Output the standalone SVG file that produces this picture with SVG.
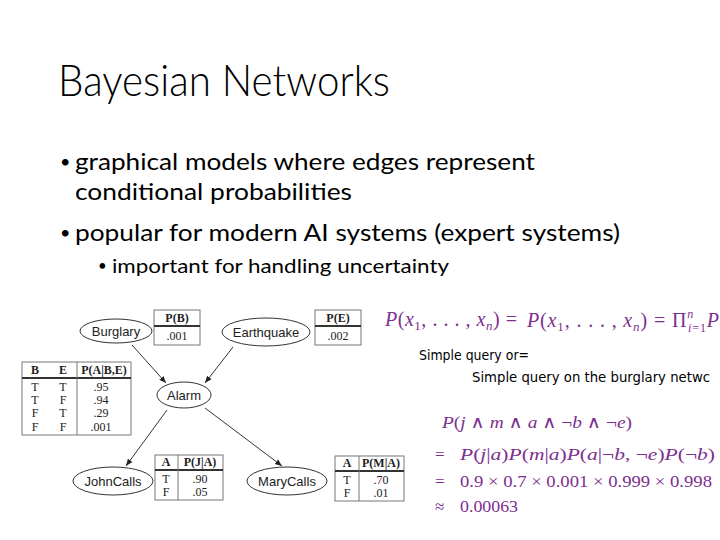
<svg xmlns="http://www.w3.org/2000/svg" width="720" height="540" viewBox="0 0 720 540">
<defs>
<style>
.title{font-family:Lato,"Open Sans","Liberation Sans",sans-serif;font-weight:300;font-size:44px;fill:#000}
.b1{font-family:Lato,"Open Sans","Liberation Sans",sans-serif;font-size:24px;fill:#000}
.b2{font-family:Lato,"Open Sans","Liberation Sans",sans-serif;font-size:20px;fill:#000}
.dot{font-family:Lato,"Open Sans","Liberation Sans",sans-serif;fill:#000}
.node ellipse{fill:#fff;stroke:#333;stroke-width:1}
.node text{font-family:"Liberation Sans",Arial,sans-serif;font-size:13px;fill:#222;text-anchor:middle}
.tbl rect{fill:#fff;stroke:#777;stroke-width:1}
.tbl line{stroke:#777;stroke-width:1}
.tbl line.hd{stroke:#333;stroke-width:2}
.tbl text{font-family:"Liberation Serif","Times New Roman",serif;font-size:12px;fill:#222;text-anchor:middle}
.tbl text.h{font-weight:bold}
.edge{stroke:#333;stroke-width:1;fill:none;marker-end:url(#arr)}
.m{font-family:"Liberation Serif","DejaVu Serif",serif;fill:#7d2f8f}
.i{font-style:italic}
.q{font-family:"DejaVu Sans","Liberation Sans",sans-serif;font-size:14px;fill:#000}
</style>
<marker id="arr" viewBox="0 0 10 10" refX="10" refY="5" markerWidth="7" markerHeight="7" orient="auto" markerUnits="userSpaceOnUse">
<path d="M0,1 L10,5 L0,9 z" fill="#222"/>
</marker>
</defs>
<rect width="720" height="540" fill="#fff"/>

<text class="title" x="58" y="96" textLength="332" lengthAdjust="spacingAndGlyphs">Bayesian Networks</text>

<g id="bullets">
<text class="dot" x="60" y="168" font-size="18">•</text>
<text class="b1" x="75" y="170" textLength="460" lengthAdjust="spacingAndGlyphs">graphical models where edges represent</text>
<text class="b1" x="75" y="200" textLength="277" lengthAdjust="spacingAndGlyphs">conditional probabilities</text>
<text class="dot" x="60" y="239" font-size="18">•</text>
<text class="b1" x="75" y="241" textLength="545" lengthAdjust="spacingAndGlyphs">popular for modern AI systems (expert systems)</text>
<text class="dot" x="98" y="271" font-size="15">•</text>
<text class="b2" x="112" y="273" textLength="337" lengthAdjust="spacingAndGlyphs">important for handling uncertainty</text>
</g>

<g id="connectors">
<line class="edge" x1="132" y1="345" x2="166" y2="383"/>
<line class="edge" x1="233" y1="347" x2="205" y2="383"/>
<line class="edge" x1="167" y1="410" x2="126" y2="466"/>
<line class="edge" x1="205" y1="408" x2="282" y2="466"/>
</g>

<g id="burglary" class="node"><ellipse cx="116" cy="331" rx="36" ry="12"/><text x="116" y="336">Burglary</text></g>
<g id="earthquake" class="node"><ellipse cx="266" cy="332" rx="44" ry="14"/><text x="266" y="337">Earthquake</text></g>
<g id="alarm" class="node"><ellipse cx="184" cy="395" rx="27" ry="13"/><text x="184" y="400">Alarm</text></g>
<g id="johncalls" class="node"><ellipse cx="113" cy="481" rx="40" ry="14"/><text x="113" y="486">JohnCalls</text></g>
<g id="marycalls" class="node"><ellipse cx="287" cy="481" rx="40" ry="14"/><text x="287" y="486">MaryCalls</text></g>

<g id="cpt-b" class="tbl">
<rect x="154" y="310" width="46" height="35"/>
<line class="hd" x1="154" y1="326" x2="200" y2="326"/>
<text class="h" x="177" y="322">P(B)</text>
<text x="177" y="340">.001</text>
</g>
<g id="cpt-e" class="tbl">
<rect x="315" y="310" width="46" height="35"/>
<line class="hd" x1="315" y1="326" x2="361" y2="326"/>
<text class="h" x="338" y="322">P(E)</text>
<text x="338" y="340">.002</text>
</g>
<g id="cpt-a" class="tbl">
<rect x="22" y="362" width="109" height="73"/>
<line class="hd" x1="22" y1="378" x2="131" y2="378"/>
<line x1="77" y1="362" x2="77" y2="435"/>
<text class="h" x="35" y="374">B</text>
<text class="h" x="63" y="374">E</text>
<text class="h" x="104" y="374">P(A|B,E)</text>
<text x="35" y="391">T</text><text x="63" y="391">T</text><text x="101" y="391">.95</text>
<text x="35" y="404">T</text><text x="63" y="404">F</text><text x="101" y="404">.94</text>
<text x="35" y="417">F</text><text x="63" y="417">T</text><text x="101" y="417">.29</text>
<text x="35" y="431">F</text><text x="63" y="431">F</text><text x="101" y="431">.001</text>
</g>
<g id="cpt-j" class="tbl">
<rect x="155" y="455" width="68" height="45"/>
<line class="hd" x1="155" y1="470" x2="223" y2="470"/>
<line x1="178" y1="455" x2="178" y2="500"/>
<text class="h" x="166" y="466">A</text>
<text class="h" x="200" y="466">P(J|A)</text>
<text x="166" y="483">T</text><text x="200" y="483">.90</text>
<text x="166" y="496">F</text><text x="200" y="496">.05</text>
</g>
<g id="cpt-m" class="tbl">
<rect x="335" y="456" width="69" height="45"/>
<line class="hd" x1="335" y1="471" x2="404" y2="471"/>
<line x1="359" y1="456" x2="359" y2="501"/>
<text class="h" x="347" y="467">A</text>
<text class="h" x="381" y="467">P(M|A)</text>
<text x="347" y="484">T</text><text x="381" y="484">.70</text>
<text x="347" y="497">F</text><text x="381" y="497">.01</text>
</g>

<g id="formulas">
<text class="m" x="385" y="326" font-size="20" textLength="132" lengthAdjust="spacing"><tspan class="i">P</tspan>(<tspan class="i">x</tspan><tspan font-size="13" dy="4">1</tspan><tspan dy="-4">, . . . , </tspan><tspan class="i">x</tspan><tspan class="i" font-size="13" dy="4">n</tspan><tspan dy="-4">) =</tspan></text>
<text class="m" x="527" y="327" font-size="20" textLength="192" lengthAdjust="spacing"><tspan class="i">P</tspan>(<tspan class="i">x</tspan><tspan font-size="13" dy="4">1</tspan><tspan dy="-4">, . . . , </tspan><tspan class="i">x</tspan><tspan class="i" font-size="13" dy="4">n</tspan><tspan dy="-4">) = Π</tspan><tspan class="i" font-size="12" dy="-9">n</tspan><tspan class="i" font-size="12" dx="-6" dy="14">i</tspan><tspan font-size="12">=1</tspan><tspan class="i" dy="-5">P</tspan></text>
<text class="q" x="419" y="360" textLength="110" lengthAdjust="spacingAndGlyphs">Simple query or=</text>
<text class="q" x="472" y="382" textLength="238" lengthAdjust="spacingAndGlyphs">Simple query on the burglary netwc</text>
<text class="m" x="442" y="428" font-size="17" textLength="190" lengthAdjust="spacingAndGlyphs"><tspan class="i">P</tspan>(<tspan class="i">j</tspan> ∧ <tspan class="i">m</tspan> ∧ <tspan class="i">a</tspan> ∧ ¬<tspan class="i">b</tspan> ∧ ¬<tspan class="i">e</tspan>)</text>
<text class="m" x="435" y="460" font-size="17">=</text>
<text class="m" x="460" y="460" font-size="17" textLength="255" lengthAdjust="spacingAndGlyphs"><tspan class="i">P</tspan>(<tspan class="i">j</tspan>|<tspan class="i">a</tspan>)<tspan class="i">P</tspan>(<tspan class="i">m</tspan>|<tspan class="i">a</tspan>)<tspan class="i">P</tspan>(<tspan class="i">a</tspan>|¬<tspan class="i">b</tspan>, ¬<tspan class="i">e</tspan>)<tspan class="i">P</tspan>(¬<tspan class="i">b</tspan>)</text>
<text class="m" x="435" y="487" font-size="17">=</text>
<text class="m" x="460" y="487" font-size="17" textLength="252" lengthAdjust="spacingAndGlyphs">0.9 × 0.7 × 0.001 × 0.999 × 0.998</text>
<text class="m" x="435" y="512" font-size="17">≈</text>
<text class="m" x="460" y="512" font-size="17" textLength="58" lengthAdjust="spacingAndGlyphs">0.00063</text>
</g>
</svg>
